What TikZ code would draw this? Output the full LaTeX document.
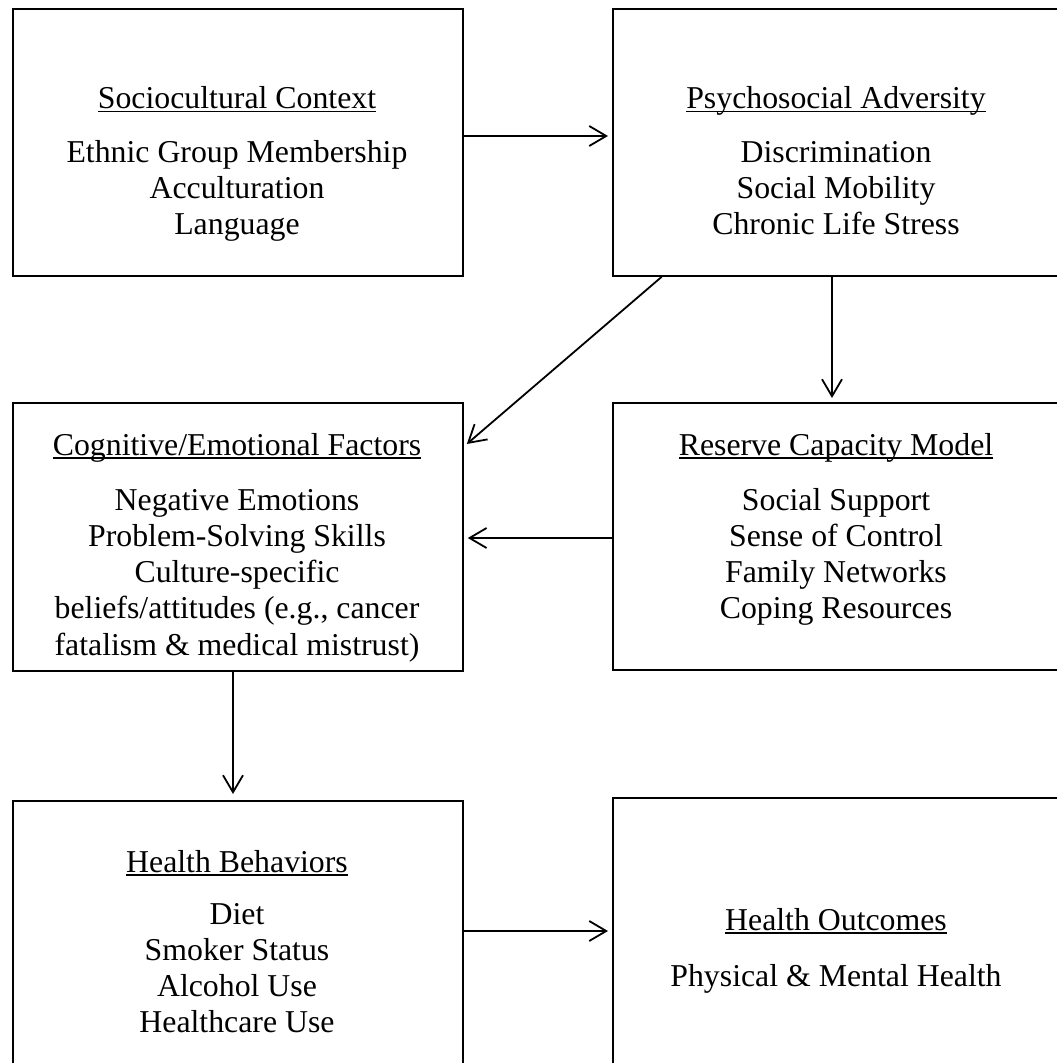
\documentclass[tikz,border=0pt]{standalone}
\usepackage{fontspec}
\setmainfont{Liberation Serif}
\usetikzlibrary{arrows.meta,calc}

% underlined box heading
\newlength\ulwd
\newcommand\headline[1]{\settowidth\ulwd{#1}\rlap{\rule[-3.8pt]{\ulwd}{1.8pt}}#1}

\tikzset{
  box/.style={draw, line width=1.8pt, inner sep=0pt, anchor=north west},
  txt/.style={anchor=base, inner sep=0pt, font=\fontsize{31.8}{36.6}\selectfont},
  arr/.style={line width=1.8pt, -{Straight Barb[length=17pt,width=20pt]}, shorten >=4pt},
}

\begin{document}
\begin{tikzpicture}[x=1pt,y=-1pt]
\useasboundingbox (0,0) rectangle (1057,1063);
\clip (0,0) rectangle (1057,1063);

% boxes
\node[box, minimum width=450pt, minimum height=267pt] (sc) at (12,8) {};
\node[box, minimum width=449pt, minimum height=267pt] (pa) at (612,8) {};
\node[box, minimum width=450pt, minimum height=268pt] (cg) at (12,402) {};
\node[box, minimum width=449pt, minimum height=267pt] (rc) at (612,402) {};
\node[box, minimum width=450pt, minimum height=290pt] (hb) at (12,800) {};
\node[box, minimum width=449pt, minimum height=290pt] (ho) at (612,797) {};

% Sociocultural Context
\node[txt] (sc-t) at (237,108.5) {\headline{Sociocultural Context}};
\node[txt] (sc-1) at (237,162) {Ethnic Group Membership};
\node[txt] (sc-2) at (237,198.2) {Acculturation};
\node[txt] (sc-3) at (237,234.4) {Language};

% Psychosocial Adversity
\node[txt] (pa-t) at (836,108.5) {\headline{Psychosocial Adversity}};
\node[txt] (pa-1) at (836,162) {Discrimination};
\node[txt] (pa-2) at (836,198.2) {Social Mobility};
\node[txt] (pa-3) at (836,234.4) {Chronic Life Stress};

% Cognitive/Emotional Factors
\node[txt] (cg-t) at (237,455) {\headline{Cognitive/Emotional Factors}};
\node[txt] (cg-1) at (237,510) {Negative Emotions};
\node[txt] (cg-2) at (237,546.3) {Problem-Solving Skills};
\node[txt] (cg-3) at (237,582.6) {Culture-specific};
\node[txt] (cg-4) at (237,618.9) {beliefs/attitudes (e.g., cancer};
\node[txt] (cg-5) at (237,655.2) {fatalism \& medical mistrust)};

% Reserve Capacity Model
\node[txt] (rc-t) at (836,455) {\headline{Reserve Capacity Model}};
\node[txt] (rc-1) at (836,510) {Social Support};
\node[txt] (rc-2) at (836,546.3) {Sense of Control};
\node[txt] (rc-3) at (836,582.6) {Family Networks};
\node[txt] (rc-4) at (836,618.9) {Coping Resources};

% Health Behaviors
\node[txt] (hb-t) at (237,872) {\headline{Health Behaviors}};
\node[txt] (hb-1) at (237,924) {Diet};
\node[txt] (hb-2) at (237,960.3) {Smoker Status};
\node[txt] (hb-3) at (237,996.6) {Alcohol Use};
\node[txt] (hb-4) at (237,1032.9) {Healthcare Use};

% Health Outcomes
\node[txt] (ho-t) at (836,930) {\headline{Health Outcomes}};
\node[txt] (ho-1) at (836,986) {Physical \& Mental Health};

% connector guides
\coordinate (r1) at (0,136);
\coordinate (r2) at (0,538);
\coordinate (r3) at (0,931);
\coordinate (c1) at (832,0);
\coordinate (c2) at (233,0);
\coordinate (d1) at (661.7,0);
\coordinate (d2) at (0,446.6);

% connectors
\draw[arr] (sc.east |- r1) -- (pa.west |- r1);
\draw[arr] (pa.south -| c1) -- (rc.north -| c1);
\draw[arr] (pa.south -| d1) -- (cg.east |- d2);
\draw[arr] (rc.west |- r2) -- (cg.east |- r2);
\draw[arr, shorten >=6pt] (cg.south -| c2) -- (hb.north -| c2);
\draw[arr] (hb.east |- r3) -- (ho.west |- r3);
\end{tikzpicture}
\end{document}
